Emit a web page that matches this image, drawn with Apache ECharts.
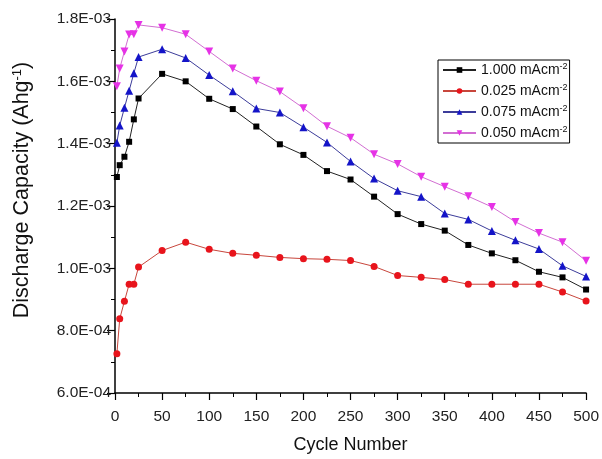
<!DOCTYPE html>
<html>
<head>
<meta charset="utf-8">
<script src="https://cdn.jsdelivr.net/npm/echarts@6/dist/echarts.min.js"></script>
<style>html,body{margin:0;padding:0;background:#fff}#c{width:602px;height:459px}</style>
</head>
<body>
<div id="c"></div>
<script>
const cycles = [2,5,10,15,20,25,50,75,100,125,150,175,200,225,250,275,300,325,350,375,400,425,450,475,500];
const s1000 = [1.293e-3,1.331e-3,1.358e-3,1.406e-3,1.478e-3,1.545e-3,1.624e-3,1.600e-3,1.544e-3,1.511e-3,1.455e-3,1.398e-3,1.364e-3,1.312e-3,1.285e-3,1.230e-3,1.174e-3,1.142e-3,1.121e-3,1.075e-3,1.048e-3,1.026e-3,0.989e-3,0.971e-3,0.932e-3];
const s025 = [0.726e-3,0.838e-3,0.894e-3,0.949e-3,0.949e-3,1.004e-3,1.057e-3,1.084e-3,1.061e-3,1.048e-3,1.042e-3,1.035e-3,1.031e-3,1.029e-3,1.025e-3,1.006e-3,0.977e-3,0.971e-3,0.964e-3,0.949e-3,0.949e-3,0.949e-3,0.949e-3,0.924e-3,0.895e-3];
const s075 = [1.403e-3,1.458e-3,1.515e-3,1.570e-3,1.626e-3,1.678e-3,1.703e-3,1.675e-3,1.620e-3,1.568e-3,1.513e-3,1.500e-3,1.453e-3,1.404e-3,1.343e-3,1.288e-3,1.249e-3,1.230e-3,1.176e-3,1.157e-3,1.120e-3,1.090e-3,1.062e-3,1.008e-3,0.974e-3];
const s050 = [1.584e-3,1.641e-3,1.696e-3,1.750e-3,1.751e-3,1.781e-3,1.772e-3,1.751e-3,1.696e-3,1.641e-3,1.602e-3,1.567e-3,1.514e-3,1.456e-3,1.419e-3,1.366e-3,1.335e-3,1.294e-3,1.262e-3,1.231e-3,1.197e-3,1.149e-3,1.113e-3,1.084e-3,1.024e-3];
const seriesNames = ['1.000 mAcm','0.025 mAcm','0.075 mAcm','0.050 mAcm'];
const xTicks = [0,50,100,150,200,250,300,350,400,450,500];
const yTicks = [0.6e-3,0.8e-3,1.0e-3,1.2e-3,1.4e-3,1.6e-3,1.8e-3];

function pair(ys){ return cycles.map((x,i)=>[x, ys[i]]); }
function fmtE(v){
  const parts = v.toExponential(1).split('e');
  const e = parseInt(parts[1],10);
  const sign = e < 0 ? '-' : '+';
  const ab = Math.abs(e);
  return parts[0] + 'E' + sign + (ab < 10 ? '0' + ab : ab);
}
const FONT = '"Liberation Sans", Arial, sans-serif';
const chart = echarts.init(document.getElementById('c'), null, {renderer:'canvas'});
const invTri = 'path://M0,0L20,0L10,17.3Z';
const colors = ['#000000','#e8141c','#1414c8','#e632e6'];
const lineColors = ['#222222','#c8463c','#3c3c9a','#d26ed2'];
const symbols = ['rect','circle','triangle',invTri];
const sizes = [6,7,8,8];
const datas = [s1000,s025,s075,s050];

const option = {
  backgroundColor:'#fff',
  animation:false,
  grid:{left:115,right:13,top:19,bottom:58,containLabel:false},
  legend:{
    show:true,
    orient:'vertical',
    left:438, top:60,
    padding:[2,2,2,4],
    borderColor:'#000', borderWidth:1,
    itemWidth:33, itemHeight:7, itemGap:5,
    data: seriesNames,
    formatter: function(n){ return '{t|' + n + '}{s|-2}'; },
    textStyle:{
      fontFamily:FONT, fontSize:14, color:'#111', lineHeight:16,
      rich:{
        t:{fontFamily:FONT,fontSize:14,color:'#111',lineHeight:16},
        s:{fontFamily:FONT,fontSize:9,color:'#111',lineHeight:9,padding:[0,0,7,0]}
      }
    }
  },
  xAxis:{
    type:'value', min:0, max:500, interval:50,
    name:'Cycle Number', nameLocation:'middle', nameGap:43,
    nameTextStyle:{fontFamily:FONT,fontSize:18,color:'#111'},
    axisLine:{show:true,onZero:false,lineStyle:{color:'#000',width:1.5}},
    axisTick:{show:true,inside:false,length:7,lineStyle:{color:'#000',width:1.2}},
    minorTick:{show:true,splitNumber:2,length:4,lineStyle:{color:'#000',width:1}},
    splitLine:{show:false},
    axisLabel:{fontFamily:FONT,fontSize:15.5,color:'#222',margin:16,
      formatter:function(v){ return xTicks.indexOf(v) >= 0 ? String(v) : ''; }}
  },
  yAxis:{
    type:'value', min:0.0006, max:0.0018, interval:0.0002,
    name:'{a|Discharge Capacity (Ahg}{b|-1}{a|)}', nameLocation:'middle', nameGap:81,
    nameTextStyle:{fontFamily:FONT,fontSize:21.5,color:'#111',padding:[0,0,0,32],
      rich:{a:{fontFamily:FONT,fontSize:21.5,color:'#111'},
            b:{fontFamily:FONT,fontSize:13,color:'#111',padding:[0,0,10,0]}}},
    axisLine:{show:true,onZero:false,lineStyle:{color:'#000',width:1.5}},
    axisTick:{show:true,inside:false,length:8,lineStyle:{color:'#000',width:1.2}},
    minorTick:{show:true,splitNumber:2,length:4,lineStyle:{color:'#000',width:1}},
    splitLine:{show:false},
    axisLabel:{fontFamily:FONT,fontSize:15.5,color:'#222',margin:4,
      formatter:function(v){ return fmtE(v); }}
  },
  series: seriesNames.map((n,i)=>({
    name:n, type:'line', data:pair(datas[i]),
    symbol:symbols[i], symbolSize:sizes[i], showSymbol:true,
    lineStyle:{color:lineColors[i], width:1},
    itemStyle:{color:colors[i], borderWidth:0},
    z: 10 - i
  }))
};
chart.setOption(option);
</script>
</body>
</html>
